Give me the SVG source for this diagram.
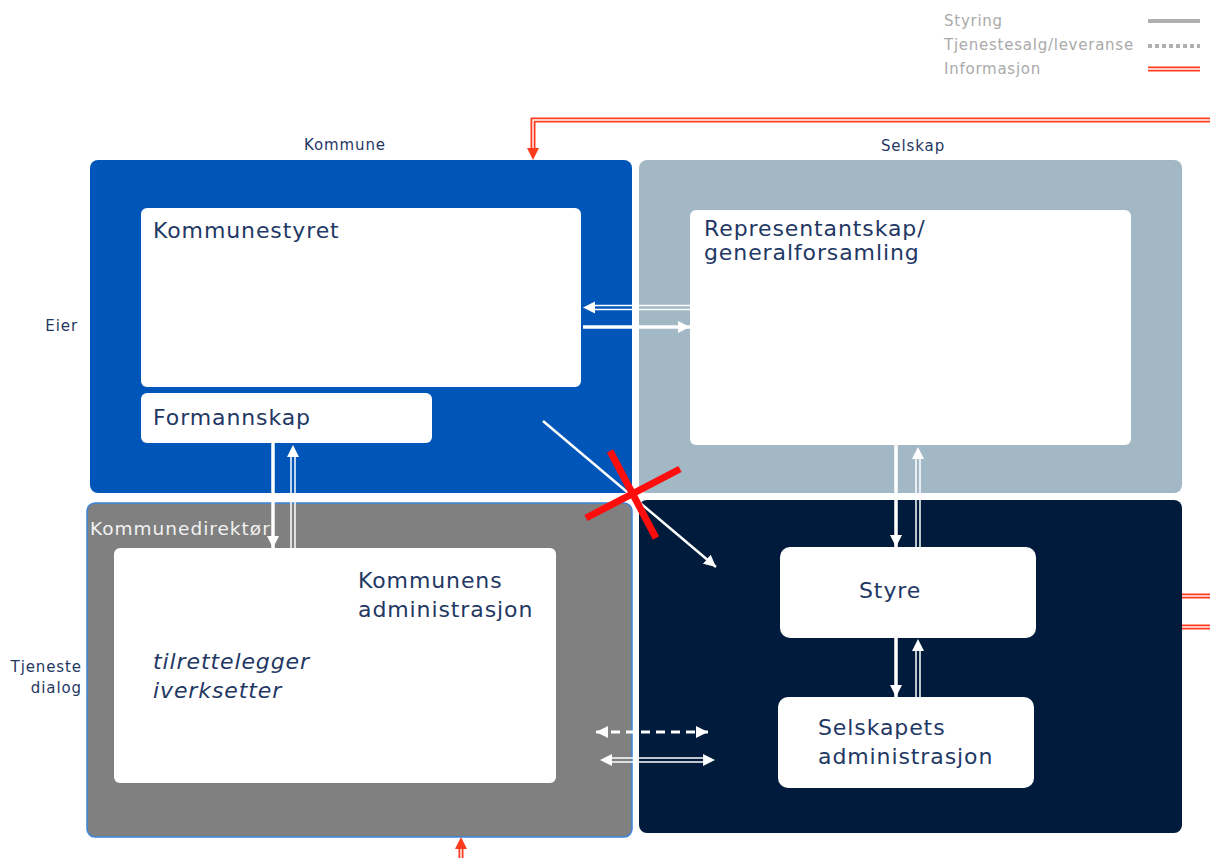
<svg xmlns="http://www.w3.org/2000/svg" width="1210" height="858" viewBox="0 0 1210 858">
<style>
.lbl{font-family:"DejaVu Sans",Verdana,sans-serif;fill:#1f3864}
.sm{font-size:15px;letter-spacing:0.9px}
.big{font-size:22px;letter-spacing:0.9px}
.leg{font-family:"DejaVu Sans",Verdana,sans-serif;font-size:15px;letter-spacing:0.75px;fill:#aaaaaa}
.w{stroke:#ffffff;fill:none}
.red{stroke:#ff3c1e;fill:none;stroke-width:5}
.redin{stroke:#ffffff;fill:none;stroke-width:1.4}
</style>
<defs>
<marker id="ah" markerUnits="userSpaceOnUse" markerWidth="14" markerHeight="14" refX="12" refY="6" orient="auto">
<path d="M0,0 L12,6 L0,12 Z" fill="#ffffff"/>
</marker>
<marker id="ahs" markerUnits="userSpaceOnUse" markerWidth="14" markerHeight="14" refX="12" refY="6" orient="auto-start-reverse">
<path d="M0,0 L12,6 L0,12 Z" fill="#ffffff"/>
</marker>
<marker id="ar" markerUnits="userSpaceOnUse" markerWidth="14" markerHeight="14" refX="12" refY="6" orient="auto">
<path d="M0,0 L12,6 L0,12 Z" fill="#ff3c1e"/>
</marker>
</defs>
<rect width="1210" height="858" fill="#ffffff"/>

<g id="legend">
<text class="leg" x="944" y="26">Styring</text>
<text class="leg" x="944" y="50">Tjenestesalg/leveranse</text>
<text class="leg" x="944" y="74">Informasjon</text>
<line x1="1148" y1="21" x2="1200" y2="21" stroke="#b0b0b0" stroke-width="4"/>
<line x1="1148" y1="46" x2="1200" y2="46" stroke="#b0b0b0" stroke-width="4" stroke-dasharray="4,3"/>
<line x1="1148" y1="69" x2="1200" y2="69" class="red" stroke-width="4"/>
<line x1="1148" y1="69" x2="1200" y2="69" class="redin" stroke-width="1.2"/>
</g>

<g id="kommune">
<rect x="90" y="160" width="542" height="333" rx="8" fill="#0055b8"/>
<text class="lbl sm" x="345" y="150" text-anchor="middle">Kommune</text>
</g>
<g id="selskap">
<rect x="639" y="160" width="543" height="333" rx="8" fill="#a3b8c5"/>
<text class="lbl sm" x="913" y="151" text-anchor="middle">Selskap</text>
</g>
<g id="kommunedirektor">
<rect x="87" y="503" width="545" height="334" rx="8" fill="#808080" stroke="#3a86e0" stroke-width="1.5"/>
<text x="90" y="535" font-family="DejaVu Sans,Verdana,sans-serif" font-size="18.5" letter-spacing="1" fill="#f2f2f2">Kommunedirektør</text>
</g>
<g id="selskap-drift">
<rect x="639" y="500" width="543" height="333" rx="8" fill="#001b3b"/>
</g>

<g id="side-labels">
<text class="lbl sm" x="78" y="331" text-anchor="end">Eier</text>
<text class="lbl sm" x="82" y="672" text-anchor="end">Tjeneste</text>
<text class="lbl sm" x="82" y="693" text-anchor="end">dialog</text>
</g>

<g id="kommunestyret">
<rect x="141" y="208" width="440" height="179" rx="6" fill="#ffffff"/>
<text class="lbl big" x="153" y="238">Kommunestyret</text>
</g>
<g id="formannskap">
<rect x="141" y="393" width="291" height="50" rx="6" fill="#ffffff"/>
<text class="lbl big" x="153" y="425">Formannskap</text>
</g>
<g id="representantskap">
<rect x="690" y="210" width="441" height="235" rx="6" fill="#ffffff"/>
<text class="lbl big" x="704" y="236">Representantskap/</text>
<text class="lbl big" x="704" y="260">generalforsamling</text>
</g>
<g id="kommunens-administrasjon">
<rect x="114" y="548" width="442" height="235" rx="6" fill="#ffffff"/>
<text class="lbl big" x="358" y="588">Kommunens</text>
<text class="lbl big" x="358" y="617">administrasjon</text>
<text class="lbl big" x="153" y="669" font-style="italic">tilrettelegger</text>
<text class="lbl big" x="153" y="698" font-style="italic">iverksetter</text>
</g>
<g id="styre">
<rect x="780" y="547" width="256" height="91" rx="10" fill="#ffffff"/>
<text class="lbl big" x="859" y="598">Styre</text>
</g>
<g id="selskapets-administrasjon">
<rect x="778" y="697" width="256" height="91" rx="10" fill="#ffffff"/>
<text class="lbl big" x="818" y="735">Selskapets</text>
<text class="lbl big" x="818" y="764">administrasjon</text>
</g>

<g id="connectors">
<line class="w" x1="690" y1="305.5" x2="592" y2="305.5" stroke-width="1.5"/>
<line class="w" x1="690" y1="309.5" x2="592" y2="309.5" stroke-width="1.5"/>
<line x1="690" y1="307.5" x2="583" y2="307.5" stroke="none" marker-end="url(#ah)"/>
<line class="w" x1="583" y1="327" x2="690" y2="327" stroke-width="3.5" marker-end="url(#ah)"/>
<line class="w" x1="273" y1="443" x2="273" y2="548" stroke-width="3.5" marker-end="url(#ah)"/>
<line class="w" x1="291" y1="548" x2="291" y2="455" stroke-width="1.5"/>
<line class="w" x1="295" y1="548" x2="295" y2="455" stroke-width="1.5"/>
<line x1="293" y1="548" x2="293" y2="445" stroke="none" marker-end="url(#ah)"/>
<line class="w" x1="543" y1="421" x2="716" y2="567" stroke-width="2.5" marker-end="url(#ah)"/>
<line x1="610" y1="451" x2="656" y2="538" stroke="#ff0d0d" stroke-width="7"/>
<line x1="586" y1="518" x2="680" y2="469" stroke="#ff0d0d" stroke-width="7"/>
<line class="w" x1="896" y1="445" x2="896" y2="547" stroke-width="3.5" marker-end="url(#ah)"/>
<line class="w" x1="916" y1="547" x2="916" y2="458" stroke-width="1.5"/>
<line class="w" x1="920" y1="547" x2="920" y2="458" stroke-width="1.5"/>
<line x1="918" y1="547" x2="918" y2="447" stroke="none" marker-end="url(#ah)"/>
<line class="w" x1="896" y1="638" x2="896" y2="697" stroke-width="3.5" marker-end="url(#ah)"/>
<line class="w" x1="916" y1="697" x2="916" y2="650" stroke-width="1.5"/>
<line class="w" x1="920" y1="697" x2="920" y2="650" stroke-width="1.5"/>
<line x1="918" y1="697" x2="918" y2="639" stroke="none" marker-end="url(#ah)"/>
<line class="w" x1="596" y1="732" x2="708" y2="732" stroke-width="3" stroke-dasharray="9,6" marker-start="url(#ahs)" marker-end="url(#ah)"/>
<line class="w" x1="610" y1="758" x2="705" y2="758" stroke-width="1.5"/>
<line class="w" x1="610" y1="762" x2="705" y2="762" stroke-width="1.5"/>
<line x1="600" y1="760" x2="715" y2="760" stroke="none" marker-start="url(#ahs)" marker-end="url(#ah)"/>
<path class="red" d="M1210,120 L533,120 L533,152"/>
<path class="redin" d="M1210,120 L533,120 L533,152"/>
<line x1="533" y1="150" x2="533" y2="160" stroke="none" marker-end="url(#ar)"/>
<line class="red" x1="1182" y1="596" x2="1210" y2="596"/>
<line class="redin" x1="1182" y1="596" x2="1210" y2="596"/>
<line class="red" x1="1182" y1="627" x2="1210" y2="627"/>
<line class="redin" x1="1182" y1="627" x2="1210" y2="627"/>
<line class="red" x1="461" y1="858" x2="461" y2="846"/>
<line class="redin" x1="461" y1="858" x2="461" y2="846"/>
<line x1="461" y1="848" x2="461" y2="837" stroke="none" marker-end="url(#ar)"/>
</g>
</svg>
